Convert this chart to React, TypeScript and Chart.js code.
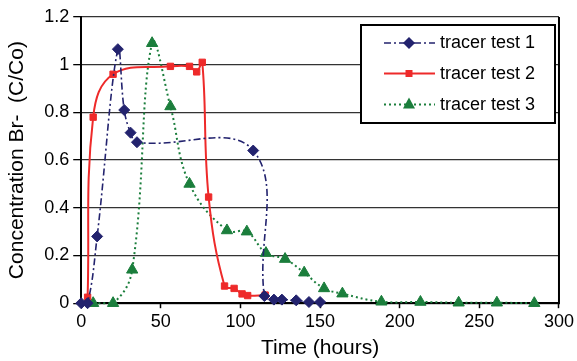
import React, { useEffect, useRef } from "react";
import { Chart, registerables } from "chart.js";

Chart.register(...registerables);

const test1X = [0, 4, 10, 23, 27, 31, 35, 108, 115, 121, 126, 135, 143, 150];
const test1Y = [0, 0, 0.28, 1.065, 0.81, 0.715, 0.675, 0.64, 0.03, 0.015, 0.015, 0.012, 0.005, 0.005];

const test2X = [4, 7.5, 20, 56, 68, 72.5, 76, 80, 90, 96, 101, 104.5, 115.5];
const test2Y = [0.025, 0.78, 0.96, 0.993, 0.993, 0.97, 1.01, 0.445, 0.072, 0.062, 0.039, 0.032, 0.034];

const test3X = [7.5, 20, 32, 44.5, 56, 68, 91.5, 104, 116, 128, 140, 152.5, 164, 188.5, 213, 237, 261, 284.5];
const test3Y = [0, 0, 0.14, 1.09, 0.825, 0.5, 0.305, 0.3, 0.21, 0.185, 0.128, 0.062, 0.04, 0.006, 0.005, 0.002, 0.002, 0];

const seriesNames = ["tracer test 1", "tracer test 2", "tracer test 3"];
const xTicks = [0, 50, 100, 150, 200, 250, 300];
const yTicks = [0, 0.2, 0.4, 0.6, 0.8, 1, 1.2];

const NAVY = "#23236e";
const RED = "#ee2a2a";
const GREEN = "#1b7e3c";
const FONT = "'Liberation Sans', Arial, sans-serif";

const toPts = (xs: number[], ys: number[]) => xs.map((x, i) => ({ x, y: ys[i] }));

const overlay = {
  id: "overlay",
  afterDraw(chart: any) {
    const { ctx, chartArea: ca } = chart;
    ctx.save();
    ctx.strokeStyle = "#000";
    ctx.lineWidth = 2;
    ctx.beginPath();
    ctx.moveTo(ca.right, ca.top);
    ctx.lineTo(ca.right, ca.bottom + 1);
    ctx.stroke();

    // legend box
    const bx = 361, by = 25, bw = 194, bh = 98;
    ctx.fillStyle = "#fff";
    ctx.fillRect(bx, by, bw, bh);
    ctx.strokeRect(bx, by, bw, bh);

    const rows = [43, 73.5, 104.5];
    const styles = [
      { color: NAVY, dash: [7, 3, 2, 3], width: 1.6, shape: "diamond" },
      { color: RED, dash: [], width: 2, shape: "square" },
      { color: GREEN, dash: [2, 3], width: 2, shape: "triangle" },
    ];
    rows.forEach((ry, i) => {
      const s = styles[i];
      ctx.strokeStyle = s.color;
      ctx.lineWidth = s.width;
      ctx.setLineDash(s.dash);
      ctx.beginPath();
      ctx.moveTo(384, ry);
      ctx.lineTo(435, ry);
      ctx.stroke();
      ctx.setLineDash([]);
      ctx.fillStyle = s.color;
      const cx = 409;
      ctx.beginPath();
      if (s.shape === "diamond") {
        ctx.moveTo(cx, ry - 6);
        ctx.lineTo(cx + 6, ry);
        ctx.lineTo(cx, ry + 6);
        ctx.lineTo(cx - 6, ry);
      } else if (s.shape === "square") {
        ctx.rect(cx - 3.5, ry - 3.5, 7, 7);
      } else {
        ctx.moveTo(cx, ry - 7);
        ctx.lineTo(cx + 6, ry + 4);
        ctx.lineTo(cx - 6, ry + 4);
      }
      ctx.closePath();
      ctx.fill();
      ctx.fillStyle = "#000";
      ctx.font = `18px ${FONT}`;
      ctx.textBaseline = "middle";
      ctx.textAlign = "left";
      ctx.fillText(seriesNames[i], 440, ry + 0.5);
    });
    ctx.restore();
  },
};

export default function App() {
  const ref = useRef<HTMLCanvasElement | null>(null);
  useEffect(() => {
    if (!ref.current) return;
    const chart = new Chart(ref.current, {
      type: "line",
      data: {
        datasets: [
          {
            label: seriesNames[0],
            data: toPts(test1X, test1Y),
            borderColor: NAVY,
            backgroundColor: NAVY,
            borderWidth: 1.6,
            borderDash: [7, 3, 2, 3],
            pointStyle: "rectRot",
            pointRadius: 5.5,
            pointBorderWidth: 1,
            tension: 0.4,
            clip: false as any,
          },
          {
            label: seriesNames[1],
            data: toPts(test2X, test2Y),
            borderColor: RED,
            backgroundColor: RED,
            borderWidth: 2,
            pointStyle: "rect",
            pointRadius: 4.5,
            pointBorderWidth: 1,
            tension: 0.4,
            clip: false as any,
          },
          {
            label: seriesNames[2],
            data: toPts(test3X, test3Y),
            borderColor: GREEN,
            backgroundColor: GREEN,
            borderWidth: 2,
            borderDash: [2, 3],
            pointStyle: "triangle",
            pointRadius: 6.5,
            pointBorderWidth: 1,
            tension: 0.4,
            clip: false as any,
          },
        ],
      },
      options: {
        animation: false,
        responsive: false,
        layout: { padding: { left: 5, right: 17, top: 17, bottom: 0 } },
        plugins: { legend: { display: false }, tooltip: { enabled: false } },
        scales: {
          x: {
            type: "linear",
            min: 0,
            max: 300,
            afterBuildTicks: (axis: any) => {
              axis.ticks = xTicks.map((v) => ({ value: v }));
            },
            ticks: { color: "#000", font: { family: FONT, size: 18 }, padding: 3, maxRotation: 0 },
            grid: { drawOnChartArea: false, drawTicks: true, tickLength: 5, tickColor: "#000", tickWidth: 1.5 },
            border: { color: "#000", width: 2 },
            title: { display: true, text: "Time (hours)", color: "#000", font: { family: FONT, size: 21 }, padding: { top: 0, bottom: 0 } },
          },
          y: {
            type: "linear",
            min: 0,
            max: 1.2,
            afterBuildTicks: (axis: any) => {
              axis.ticks = yTicks.map((v) => ({ value: v }));
            },
            ticks: { color: "#000", font: { family: FONT, size: 18 }, padding: 4, callback: (v: any) => String(v) },
            grid: { color: "#333", lineWidth: 1.3, drawTicks: true, tickLength: 8, tickColor: "#000" },
            border: { color: "#000", width: 2 },
            title: { display: true, text: "Concentration Br-  (C/Co)", color: "#000", font: { family: FONT, size: 21 }, padding: { top: 0, bottom: 10 } },
          },
        },
      },
      plugins: [overlay],
    });
    return () => chart.destroy();
  }, []);
  return (
    <div style={{ position: "fixed", left: 0, top: 0, width: 577, height: 361, background: "#fff" }}>
      <canvas ref={ref} width={577} height={361} style={{ width: 577, height: 361, display: "block" }} />
    </div>
  );
}
